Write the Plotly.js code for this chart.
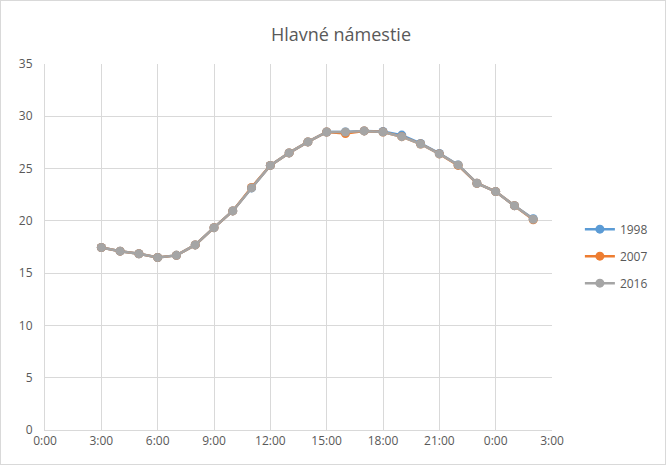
<!DOCTYPE html>
<html>
<head>
<meta charset="utf-8">
<script src="https://cdn.plot.ly/plotly-3.0.1.min.js"></script>
<style>
html,body{margin:0;padding:0;background:#fff;}
#chart{width:666px;height:465px;box-sizing:border-box;border:1px solid #d9d9d9;}
</style>
</head>
<body>
<div id="chart"></div>
<script>
// hours since midnight of first day (3:00 .. 2:00 next day)
const hours = [3,4,5,6,7,8,9,10,11,12,13,14,15,16,17,18,19,20,21,22,23,24,25,26];
const v1998 = [17.45,17.1,16.85,16.5,16.7,17.7,19.35,20.95,23.15,25.3,26.5,27.55,28.5,28.5,28.6,28.55,28.2,27.4,26.45,25.35,23.6,22.8,21.45,20.2];
const v2007 = [17.45,17.1,16.85,16.5,16.7,17.7,19.35,20.95,23.2,25.3,26.5,27.55,28.5,28.35,28.6,28.5,28.05,27.35,26.4,25.3,23.6,22.8,21.45,20.1];
const v2016 = [17.45,17.1,16.85,16.5,16.7,17.7,19.35,20.95,23.15,25.3,26.5,27.55,28.5,28.5,28.6,28.5,28.05,27.35,26.4,25.35,23.6,22.8,21.45,20.15];
const tickHours = [0,3,6,9,12,15,18,21,24,27];
const tickLabels = ["0:00","3:00","6:00","9:00","12:00","15:00","18:00","21:00","0:00","3:00"];
const seriesNames = ["1998","2007","2016"];
const colors = ["#5b9bd5","#ed7d31","#a5a5a5"];

const series = [v1998, v2007, v2016];
const traces = series.map((vals, i) => ({
  x: hours, y: vals, name: seriesNames[i], type: 'scatter', mode: 'lines+markers',
  legendgroup: 'g' + i,
  line: {color: colors[i], width: 2.5},
  marker: {color: colors[i], size: 9}
}));

const font = {family: '"Open Sans", "Liberation Sans", sans-serif', size: 12, color: '#595959'};
const layout = {
  width: 664, height: 463,
  paper_bgcolor: '#fff', plot_bgcolor: '#fff',
  font: font,
  margin: {l: 44, r: 106, t: 63, b: 34},
  title: {text: 'Hlavné námestie', x: 0.512, xanchor: 'center', y: 0.928, yanchor: 'middle',
          font: {family: font.family, size: 18, color: '#595959'}},
  xaxis: {
    range: [0, 27], tickvals: tickHours, ticktext: tickLabels,
    showgrid: true, gridcolor: '#d9d9d9', gridwidth: 1,
    showline: true, linecolor: '#d9d9d9', linewidth: 1,
    zeroline: false, ticks: '', tickfont: font
  },
  yaxis: {
    range: [0, 35], dtick: 5,
    showgrid: true, gridcolor: '#d9d9d9', gridwidth: 1,
    showline: true, linecolor: '#d9d9d9', linewidth: 1,
    zeroline: false, ticks: '', ticklabelstandoff: 9, tickfont: font
  },
  showlegend: true,
  legend: {x: 1.055, xanchor: 'left', y: 0.475, yanchor: 'middle',
           traceorder: 'grouped', tracegroupgap: 8, font: font, bgcolor: 'rgba(0,0,0,0)'}
};

Plotly.newPlot('chart', traces, layout, {displayModeBar: false, staticPlot: true});
</script>
</body>
</html>
